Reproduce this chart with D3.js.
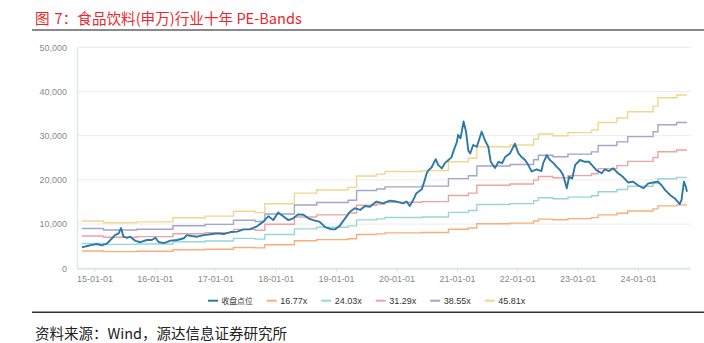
<!DOCTYPE html>
<html><head><meta charset="utf-8">
<script src="https://cdn.jsdelivr.net/npm/d3@7"></script>
<style>body{margin:0;background:#fff} svg{display:block}</style>
</head><body><svg id="c" width="704" height="343"></svg>
<script>
// ---------- data ----------
const closeT = [2014.79,2014.88,2014.96,2015.04,2015.12,2015.21,2015.29,2015.34,2015.40,2015.44,2015.48,2015.54,2015.59,2015.68,2015.76,2015.87,2015.95,2016.01,2016.06,2016.15,2016.26,2016.37,2016.48,2016.53,2016.61,2016.70,2016.81,2016.92,2017.03,2017.14,2017.25,2017.36,2017.47,2017.57,2017.69,2017.79,2017.88,2017.96,2018.04,2018.13,2018.21,2018.29,2018.37,2018.46,2018.54,2018.62,2018.73,2018.82,2018.90,2018.98,2019.06,2019.15,2019.23,2019.31,2019.40,2019.48,2019.56,2019.67,2019.78,2019.89,2020.00,2020.11,2020.17,2020.22,2020.28,2020.33,2020.42,2020.47,2020.50,2020.53,2020.58,2020.65,2020.69,2020.75,2020.80,2020.86,2020.91,2020.94,2020.97,2021.00,2021.02,2021.06,2021.11,2021.15,2021.19,2021.22,2021.27,2021.33,2021.41,2021.47,2021.52,2021.56,2021.63,2021.69,2021.75,2021.80,2021.88,2021.96,2022.02,2022.07,2022.13,2022.18,2022.24,2022.32,2022.40,2022.43,2022.49,2022.54,2022.60,2022.65,2022.71,2022.76,2022.82,2022.86,2022.91,2022.96,2023.04,2023.12,2023.19,2023.26,2023.31,2023.40,2023.45,2023.52,2023.59,2023.67,2023.75,2023.84,2023.92,2024.00,2024.09,2024.17,2024.25,2024.33,2024.39,2024.45,2024.53,2024.61,2024.69,2024.72,2024.76,2024.79,2024.81];
const closeV = [4750,5050,5300,5500,5200,5650,6800,7500,7900,9100,7150,6900,7150,6200,5900,6400,6400,6900,5950,5700,6250,6400,6800,7500,7300,7150,7500,7700,7900,7750,8200,8300,8800,8800,9500,10500,11800,10900,12600,11700,10900,11300,12200,12100,11300,10900,10500,9300,8900,8800,9600,11300,12800,13600,13200,14100,13900,15100,14700,15300,15100,14700,15100,14100,15500,17000,17900,20000,21500,22200,22800,24700,23400,22600,23800,24500,25100,26400,27500,28600,30200,29400,33200,31000,26600,26000,27900,27500,30900,28800,27500,24100,22700,24100,23800,25200,26000,28200,26000,25200,24500,23400,21900,22400,22000,23800,25600,24500,23800,23000,22200,21100,18100,20700,20300,23400,24500,24100,24100,23000,22200,21500,22400,22000,22600,21500,20700,19400,19600,18800,18100,19200,19400,19600,18800,17700,16600,15800,14500,15500,19600,18500,17300];
// TTM EPS (index points) step series underlying the PE bands
const epsT = [2014.79,2015.15,2015.70,2016.30,2016.83,2017.30,2017.66,2017.82,2018.31,2018.68,2019.20,2019.34,2019.67,2019.81,2020.42,2020.86,2021.19,2021.33,2021.88,2022.27,2022.35,2022.59,2022.84,2023.23,2023.34,2023.65,2023.83,2024.25,2024.33,2024.64,2024.81];
const epsV = [233.6,224.8,229.2,249.9,257.6,281.6,275.0,318.7,371.1,386.4,399.5,456.2,465.0,478.1,482.4,526.1,543.6,600.3,609.0,637.4,663.6,654.9,670.2,683.3,720.4,742.2,772.8,801.1,842.6,855.7,855.7];
const bandMultiples = [16.77, 24.03, 31.29, 38.55, 45.81];
const legendLabels = ["收盘点位", "16.77x", "24.03x", "31.29x", "38.55x", "45.81x"];
const yTicks = [0, 10000, 20000, 30000, 40000, 50000];
const xTickYears = [2015,2016,2017,2018,2019,2020,2021,2022,2023,2024];
const xDomainYears = [2014.71, 2024.86];
const titleParts = ["图", "7：食品饮料(申万)行业十年 PE-Bands"];
const sourceText = "资料来源：Wind，源达信息证券研究所";

// ---------- styles ----------
const closeColor = "#2b79a8";
const bandColors = ["#f8ae78", "#98d6d6", "#efa2a2", "#a4a4cc", "#f2d68e"];
const FONT = "'Liberation Sans', 'Noto Sans CJK SC', sans-serif";
const CJK = "'Noto Sans CJK SC', sans-serif";

function toDate(y) {
  const yr = Math.floor(y);
  const a = new Date(yr, 0, 1), b = new Date(yr + 1, 0, 1);
  return new Date(+a + (y - yr) * (b - a));
}

const svg = d3.select("#c");
const L = 77, R = 690, T = 47.3, B = 268.3;

const x = d3.scaleTime().domain(xDomainYears.map(toDate)).range([L, R]);
const y = d3.scaleLinear().domain([0, 50000]).range([B, T]);

// title
const title = svg.append("text").attr("x", 35).attr("y", 23.5)
  .attr("font-family", CJK).attr("font-size", 14.6).attr("fill", "#e8282d");
title.append("tspan").text(titleParts[0]);
title.append("tspan").attr("dx", 5).text(titleParts[1]);
svg.append("line").attr("x1", 32).attr("x2", 704).attr("y1", 30).attr("y2", 30)
  .attr("stroke", "#8a8a8a").attr("stroke-width", 2);

// gridlines
svg.append("g").selectAll("line").data(yTicks.filter(d => d > 0)).join("line")
  .attr("x1", L).attr("x2", R + 1).attr("y1", d => y(d)).attr("y2", d => y(d))
  .attr("stroke", "#ececec").attr("stroke-width", 1);

// y axis
const yAxis = d3.axisLeft(y).tickValues(yTicks).tickFormat(d3.format(",")).tickSize(0).tickPadding(10);
const gy = svg.append("g").attr("transform", `translate(${L},0)`).call(yAxis);
gy.select(".domain").attr("stroke", "#e1e7f0").attr("stroke-width", 1.5);
gy.selectAll("text").attr("font-family", FONT).attr("font-size", 9).attr("fill", "#8a8a8a");

// x axis
const xAxis = d3.axisBottom(x).tickValues(xTickYears.map(toDate))
  .tickFormat(d3.timeFormat("%y-%m-%d")).tickSizeInner(4).tickSizeOuter(0).tickPadding(3);
const gx = svg.append("g").attr("transform", `translate(0,${B})`).call(xAxis);
gx.select(".domain").attr("stroke", "#dde5f0").attr("stroke-width", 2);
gx.selectAll(".tick line").attr("stroke", "#dde5f0").attr("stroke-width", 1);
gx.selectAll("text").attr("font-family", FONT).attr("font-size", 9).attr("fill", "#8a8a8a");

// bands
const bandLine = d3.line().x(d => x(toDate(d.t))).y(d => y(d.v)).curve(d3.curveStepAfter);
bandMultiples.forEach((m, k) => {
  const pts = epsT.map((t, i) => ({ t, v: epsV[i] * m }));
  svg.append("path").datum(pts).attr("d", bandLine)
    .attr("fill", "none").attr("stroke", bandColors[k]).attr("stroke-width", 1.4);
});

// close line
const closeLine = d3.line().x(d => x(toDate(d.t))).y(d => y(d.v)).curve(d3.curveLinear);
svg.append("path").datum(closeT.map((t, i) => ({ t, v: closeV[i] }))).attr("d", closeLine)
  .attr("fill", "none").attr("stroke", closeColor).attr("stroke-width", 1.9)
  .attr("stroke-linejoin", "round");

// legend
const legColors = [closeColor].concat(bandColors);
let cx = 208;
const ly = 300.7;
legendLabels.forEach((lab, i) => {
  const g = svg.append("g");
  g.append("line").attr("x1", cx).attr("x2", cx + 10).attr("y1", ly).attr("y2", ly)
    .attr("stroke", legColors[i]).attr("stroke-width", 2);
  const t = g.append("text").attr("x", cx + 13.5).attr("y", ly + 3.2).text(lab)
    .attr("font-family", i === 0 ? CJK : FONT).attr("font-size", i === 0 ? 7.8 : 9)
    .attr("fill", "#333");
  cx += 13.5 + t.node().getComputedTextLength() + 14;
});

// bottom rule and source
svg.append("line").attr("x1", 32).attr("x2", 704).attr("y1", 312.3).attr("y2", 312.3)
  .attr("stroke", "#333").attr("stroke-width", 1.5);
svg.append("text").attr("x", 35).attr("y", 338.5).text(sourceText)
  .attr("font-family", CJK).attr("font-size", 14.5).attr("fill", "#222");
</script></body></html>
